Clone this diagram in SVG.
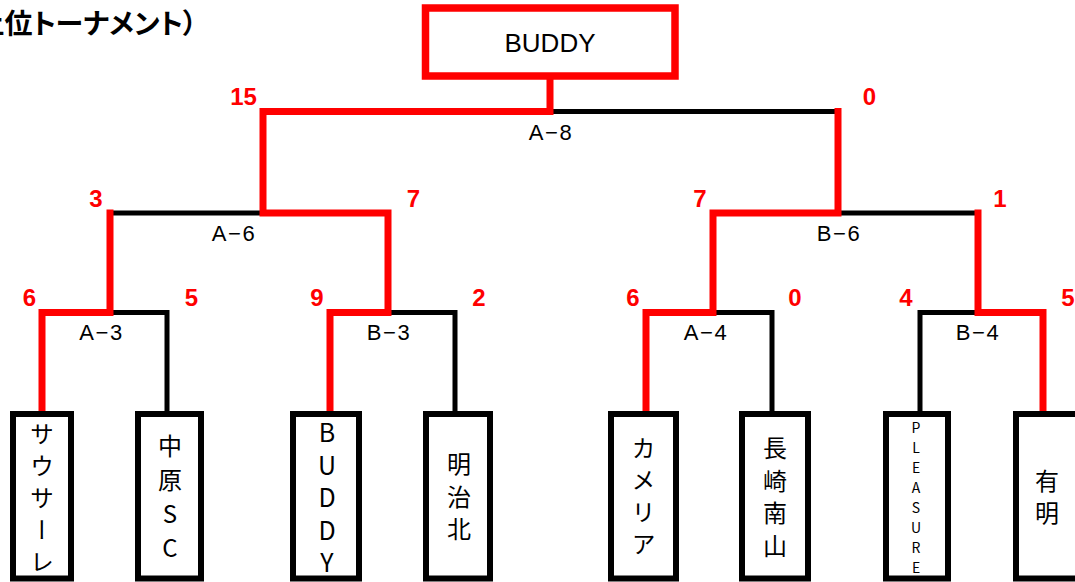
<svg xmlns="http://www.w3.org/2000/svg" width="1075" height="582" viewBox="0 0 1075 582">
<style>
.bg{fill:#fff}
.box{fill:#fff;stroke:#000;stroke-width:6}
.win{fill:#fff;stroke:#f00;stroke-width:7.5}
.blk{fill:none;stroke:#000;stroke-width:5;stroke-linejoin:miter}
.red{fill:none;stroke:#f00;stroke-width:7;stroke-linejoin:miter;stroke-linecap:square}
.score{font-family:"Liberation Sans",Arial,sans-serif;font-weight:bold;font-size:24px;fill:#f00;text-anchor:middle}
.lbl{font-family:"Liberation Sans",Arial,sans-serif;font-size:22px;letter-spacing:1.5px;fill:#000;text-anchor:middle}
.vt{font-family:"Noto Sans CJK JP",sans-serif;font-size:24px;fill:#000;writing-mode:vertical-rl;text-orientation:upright}
.title{font-family:"Noto Sans CJK JP",sans-serif;font-weight:bold;font-size:28px;fill:#000;font-feature-settings:"palt" 1}
.champ{font-family:"Liberation Sans",Arial,sans-serif;font-size:26px;fill:#000;text-anchor:middle}
</style>
<rect class="bg" x="0" y="0" width="1075" height="582"/>
<text class="title" x="197" y="34" text-anchor="end">上位トーナメント）</text>

<g id="connectors">
  <path class="blk" d="M110 312.5 H167 V412"/>
  <path class="blk" d="M107 213 H263"/>
  <path class="blk" d="M388 312.5 H455 V412"/>
  <path class="blk" d="M550 111.5 H838"/>
  <path class="blk" d="M838 213 H978"/>
  <path class="blk" d="M713 312.5 H772 V412"/>
  <path class="blk" d="M978 312.5 H920 V412"/>
  <path class="red" d="M42 412 V312.5 H110 V213"/>
  <path class="red" d="M330 412 V312.5 H388 V213 H263 V111.5 H550 V80"/>
  <path class="red" d="M646 412 V312.5 H713 V213 H838 V111.5"/>
  <path class="red" d="M1043 412 V312.5 H978 V213"/>
</g>

<g id="match-labels">
  <text class="lbl" x="551" y="140">A−8</text>
  <text class="lbl" x="234" y="241">A−6</text>
  <text class="lbl" x="839" y="241">B−6</text>
  <text class="lbl" x="101.5" y="340">A−3</text>
  <text class="lbl" x="389" y="340">B−3</text>
  <text class="lbl" x="706" y="340">A−4</text>
  <text class="lbl" x="978" y="340">B−4</text>
</g>

<g id="scores">
  <text class="score" x="243.5" y="105">15</text>
  <text class="score" x="869.5" y="105">0</text>
  <text class="score" x="96" y="207">3</text>
  <text class="score" x="413.5" y="207">7</text>
  <text class="score" x="700" y="207">7</text>
  <text class="score" x="1000" y="207">1</text>
  <text class="score" x="29.5" y="306">6</text>
  <text class="score" x="191.5" y="306">5</text>
  <text class="score" x="317" y="306">9</text>
  <text class="score" x="479" y="306">2</text>
  <text class="score" x="633" y="306">6</text>
  <text class="score" x="795" y="306">0</text>
  <text class="score" x="906" y="306">4</text>
  <text class="score" x="1068" y="306">5</text>
</g>

<g id="champion">
  <rect class="win" x="425.5" y="8" width="249.5" height="68"/>
  <text class="champ" x="550" y="52">BUDDY</text>
</g>

<g id="team-sausare">
  <rect class="box" x="13" y="414" width="58" height="164.5"/>
  <text class="vt" x="42" y="422" style="letter-spacing:8px">サウサーレ</text>
</g>
<g id="team-nakahara">
  <rect class="box" x="138" y="414" width="63" height="164.5"/>
  <text class="vt" x="170" y="434" style="letter-spacing:10px">中原SC</text>
</g>
<g id="team-buddy">
  <rect class="box" x="293" y="414" width="66" height="164.5"/>
  <text class="vt" x="327" y="420" style="letter-spacing:7.5px;font-size:25px">BUDDY</text>
</g>
<g id="team-meijikita">
  <rect class="box" x="426" y="414" width="64" height="164.5"/>
  <text class="vt" x="459" y="452" style="letter-spacing:8.5px">明治北</text>
</g>
<g id="team-camellia">
  <rect class="box" x="611" y="414" width="65" height="164.5"/>
  <text class="vt" x="643.5" y="436" style="letter-spacing:8px">カメリア</text>
</g>
<g id="team-nagasakinanzan">
  <rect class="box" x="742" y="414" width="66" height="164.5"/>
  <text class="vt" x="775" y="436" style="letter-spacing:8.5px">長崎南山</text>
</g>
<g id="team-pleasure">
  <rect class="box" x="886" y="414" width="62" height="164.5"/>
  <text class="vt" x="916" y="421" style="letter-spacing:6px;font-size:14px">PLEASURE</text>
</g>
<g id="team-ariake">
  <rect class="box" x="1016" y="414" width="64" height="164.5"/>
  <text class="vt" x="1047" y="469" style="letter-spacing:8px">有明</text>
</g>
</svg>
